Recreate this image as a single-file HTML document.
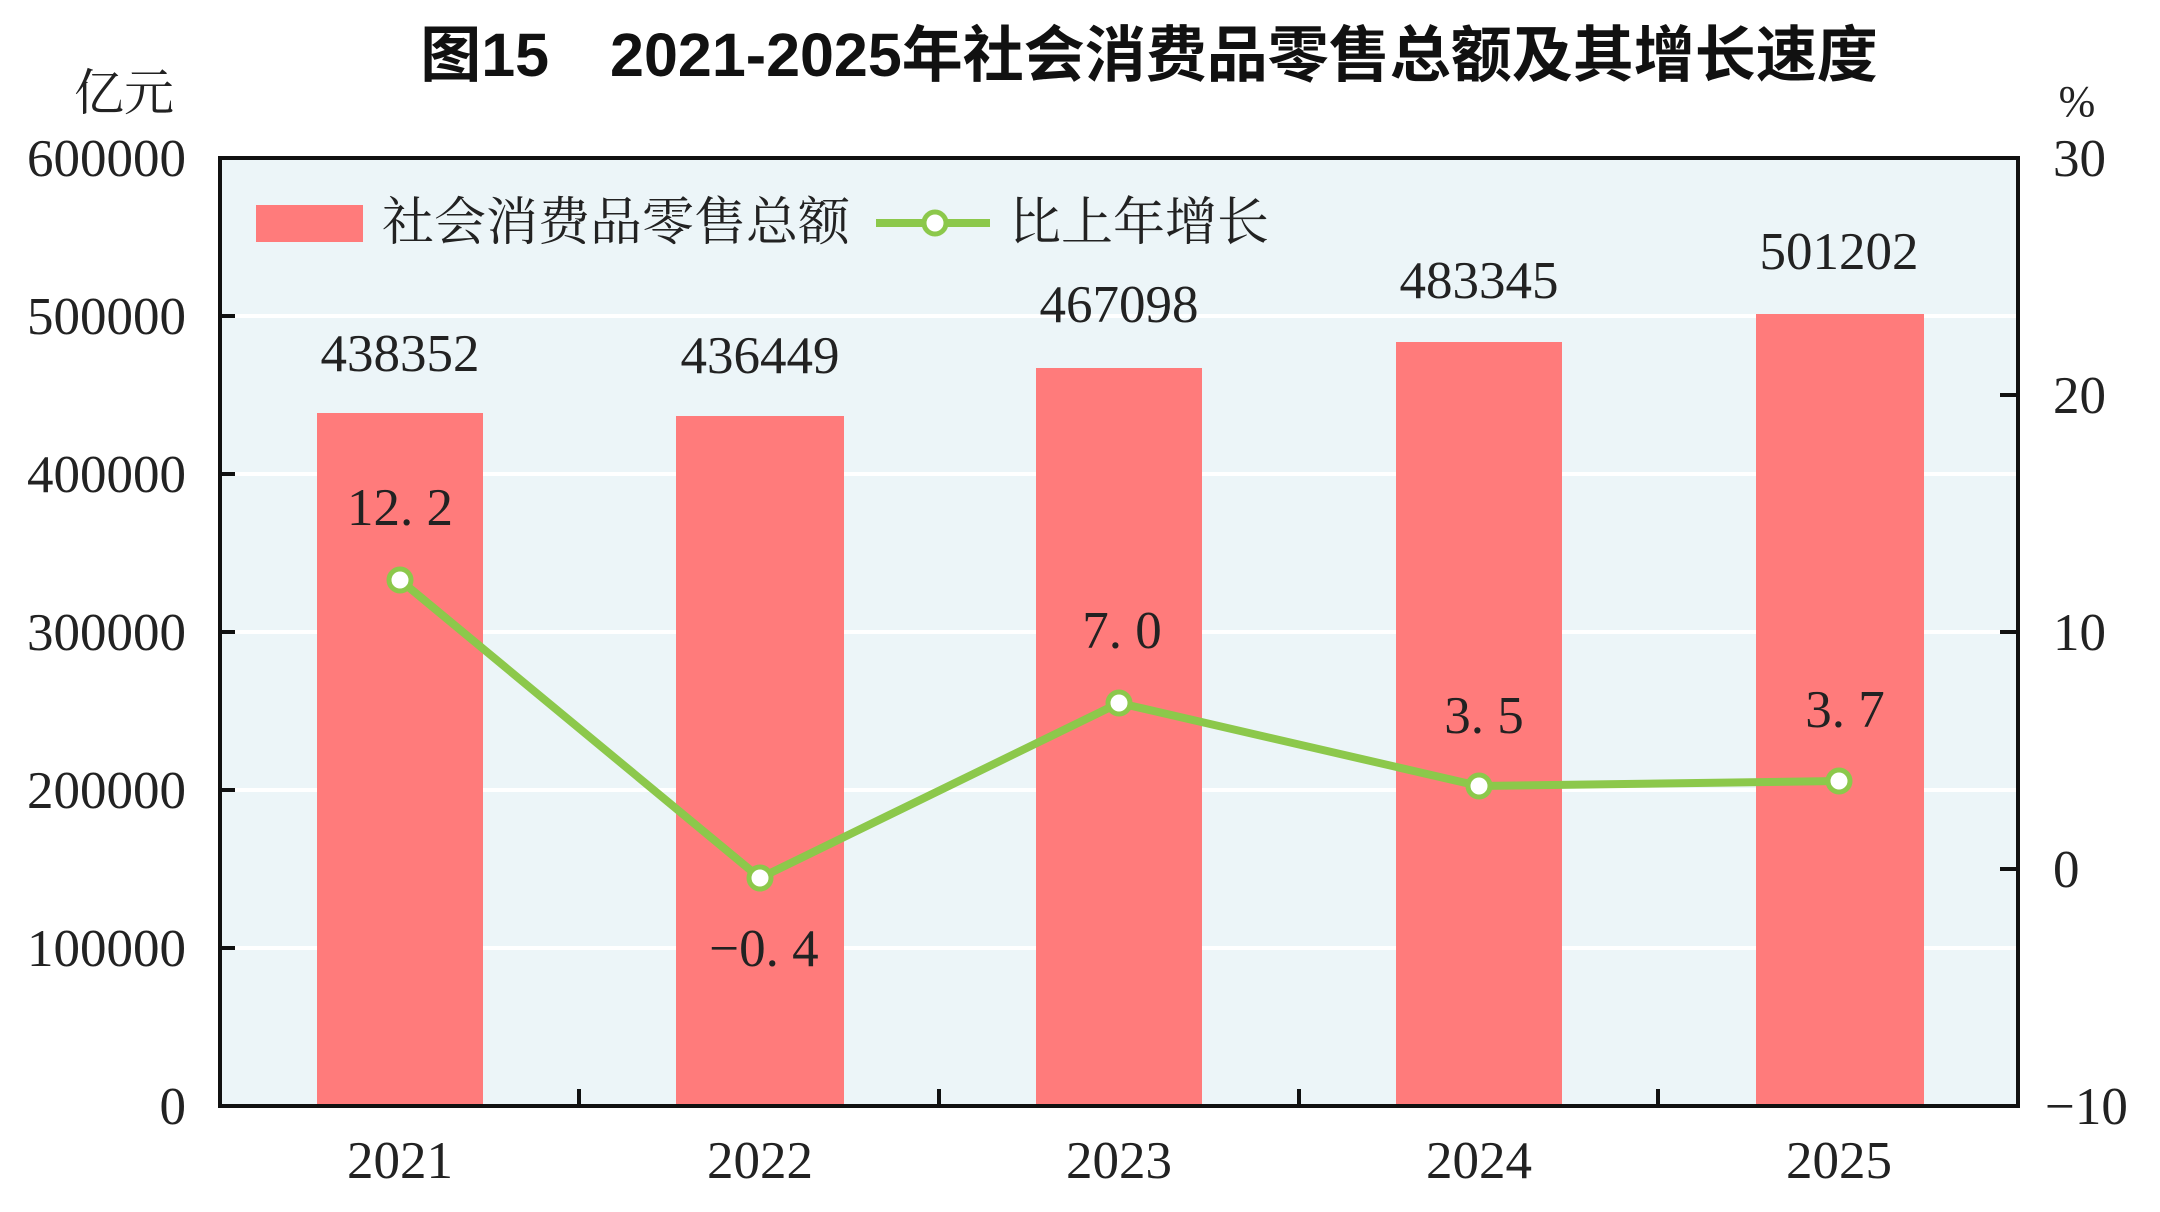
<!DOCTYPE html>
<html><head><meta charset="utf-8"><style>
html,body{margin:0;padding:0;background:#fff;}
svg{display:block;}
.s{font-family:"Liberation Serif","Noto Serif CJK SC",serif;fill:#222;}
.c{font-family:"Liberation Serif","Noto Serif CJK SC",serif;fill:#222;}
</style></head><body>
<svg width="2160" height="1212" viewBox="0 0 2160 1212" xmlns="http://www.w3.org/2000/svg">
<rect x="220" y="158" width="1798" height="948" fill="#ecf5f8"/>
<g stroke="#fff" stroke-width="4">
<line x1="220" y1="316" x2="2018" y2="316"/>
<line x1="220" y1="474" x2="2018" y2="474"/>
<line x1="220" y1="632" x2="2018" y2="632"/>
<line x1="220" y1="790" x2="2018" y2="790"/>
<line x1="220" y1="948" x2="2018" y2="948"/>
</g>
<g fill="#ff7b7b">
<rect x="317" y="413" width="166" height="693"/>
<rect x="676" y="416" width="168" height="690"/>
<rect x="1036" y="368" width="166" height="738"/>
<rect x="1396" y="342" width="166" height="764"/>
<rect x="1756" y="314" width="168" height="792"/>
</g>
<g stroke="#111" stroke-width="4" fill="none">
<rect x="220" y="158" width="1798" height="948"/>
<line x1="220" y1="316" x2="235" y2="316"/><line x1="220" y1="474" x2="235" y2="474"/>
<line x1="220" y1="632" x2="235" y2="632"/><line x1="220" y1="790" x2="235" y2="790"/>
<line x1="220" y1="948" x2="235" y2="948"/>
<line x1="2018" y1="395" x2="2000" y2="395"/><line x1="2018" y1="632" x2="2000" y2="632"/>
<line x1="2018" y1="869" x2="2000" y2="869"/>
<line x1="579" y1="1106" x2="579" y2="1089"/><line x1="939" y1="1106" x2="939" y2="1089"/>
<line x1="1299" y1="1106" x2="1299" y2="1089"/><line x1="1658" y1="1106" x2="1658" y2="1089"/>
</g>
<polyline points="400,580 760,878 1119,703 1479,786 1839,781" fill="none" stroke="#8cc84b" stroke-width="8" stroke-linejoin="round"/>
<g fill="#fff" stroke="#8cc84b" stroke-width="5">
<circle cx="400" cy="580" r="11"/><circle cx="760" cy="878" r="11"/>
<circle cx="1119" cy="703" r="11"/><circle cx="1479" cy="786" r="11"/><circle cx="1839" cy="781" r="11"/>
</g>
<text x="1149" y="76" text-anchor="middle" font-family="Liberation Sans,'Noto Sans CJK SC',sans-serif" font-weight="bold" font-size="61" fill="#111">图15　2021-2025年社会消费品零售总额及其增长速度</text>
<text class="c" x="124" y="110" text-anchor="middle" font-size="50">亿元</text>
<text class="s" x="2077" y="116" text-anchor="middle" font-size="44">%</text>
<g class="s" font-size="53" text-anchor="end">
<text x="186" y="176">600000</text><text x="186" y="334">500000</text>
<text x="186" y="492">400000</text><text x="186" y="650">300000</text>
<text x="186" y="808">200000</text><text x="186" y="966">100000</text>
<text x="186" y="1124">0</text>
</g>
<g class="s" font-size="53">
<text x="2053" y="176">30</text><text x="2053" y="413">20</text>
<text x="2053" y="650">10</text><text x="2053" y="887">0</text>
<text x="2045" y="1124">−10</text>
</g>
<g class="s" font-size="53" text-anchor="middle">
<text x="400" y="1178">2021</text><text x="760" y="1178">2022</text>
<text x="1119" y="1178">2023</text><text x="1479" y="1178">2024</text><text x="1839" y="1178">2025</text>
<text x="400" y="371">438352</text><text x="760" y="373">436449</text>
<text x="1119" y="322">467098</text><text x="1479" y="298">483345</text><text x="1839" y="269">501202</text>
<text x="400" y="525">12. 2</text><text x="764" y="966">−0. 4</text>
<text x="1122" y="648">7. 0</text><text x="1484" y="733">3. 5</text><text x="1845" y="727">3. 7</text>
</g>
<rect x="256" y="205" width="107" height="37" fill="#ff7b7b"/>
<text class="c" x="382" y="240" font-size="52">社会消费品零售总额</text>
<line x1="876" y1="223" x2="990" y2="223" stroke="#8cc84b" stroke-width="8"/>
<circle cx="935" cy="223" r="11" fill="#fff" stroke="#8cc84b" stroke-width="5"/>
<text class="c" x="1009" y="240" font-size="52">比上年增长</text>
</svg>
</body></html>
